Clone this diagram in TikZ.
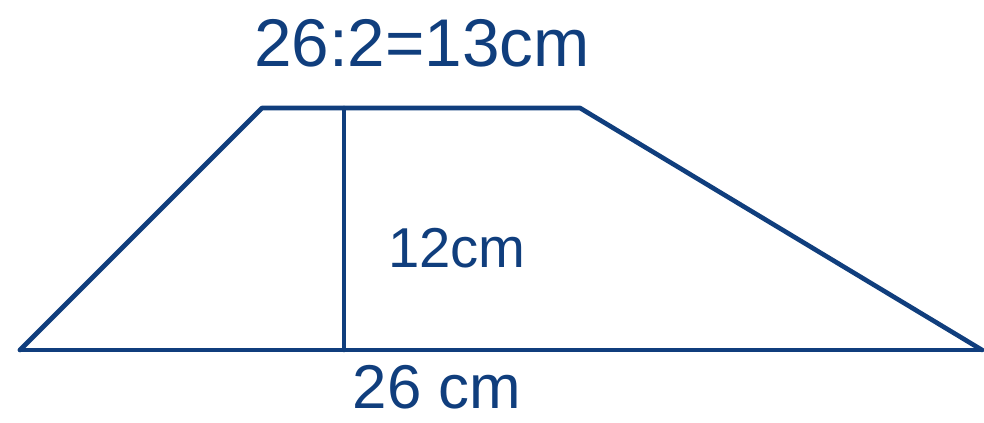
\documentclass[tikz,border=0pt]{standalone}
\usepackage{fontspec}
\setmainfont{Liberation Sans}
\usepackage{tikz}
\usetikzlibrary{positioning, calc}
\definecolor{InkBlue}{RGB}{16, 62, 125}

\begin{document}
\begin{tikzpicture}[
        line join=round, line cap=round,
        edge/.style={draw=InkBlue, line width=3.3pt},
        label/.style={text=InkBlue, inner sep=0pt}
    ]
    \useasboundingbox (0,0) rectangle (24.6,10.575);

    % Ecken des Trapezes
    \coordinate (A) at (0.5, 1.825);
    \coordinate (B) at (24.55, 1.825);
    \coordinate (C) at (14.5, 7.875);
    \coordinate (D) at (6.55, 7.875);

    % Hoehe
    \coordinate (htop) at (8.6, 7.875);
    \coordinate (hfoot) at (8.6, 1.825);

    % Seiten
    \draw[edge] (A) -- (B);
    \draw[edge] (A) -- (D) -- (C) -- (B);
    \draw[edge] (htop) -- (hfoot);

    % Beschriftungen
    \node[label, font=\fontsize{48}{58}\selectfont] (top) at (10.55, 9.5) {26:2=13cm};
    \node[label, font=\fontsize{40}{48}\selectfont] (height) at (11.425, 4.375) {12cm};
    \node[label, font=\fontsize{44}{52}\selectfont] (base) at (10.925, 0.9) {26 cm};

\end{tikzpicture}
\end{document}
